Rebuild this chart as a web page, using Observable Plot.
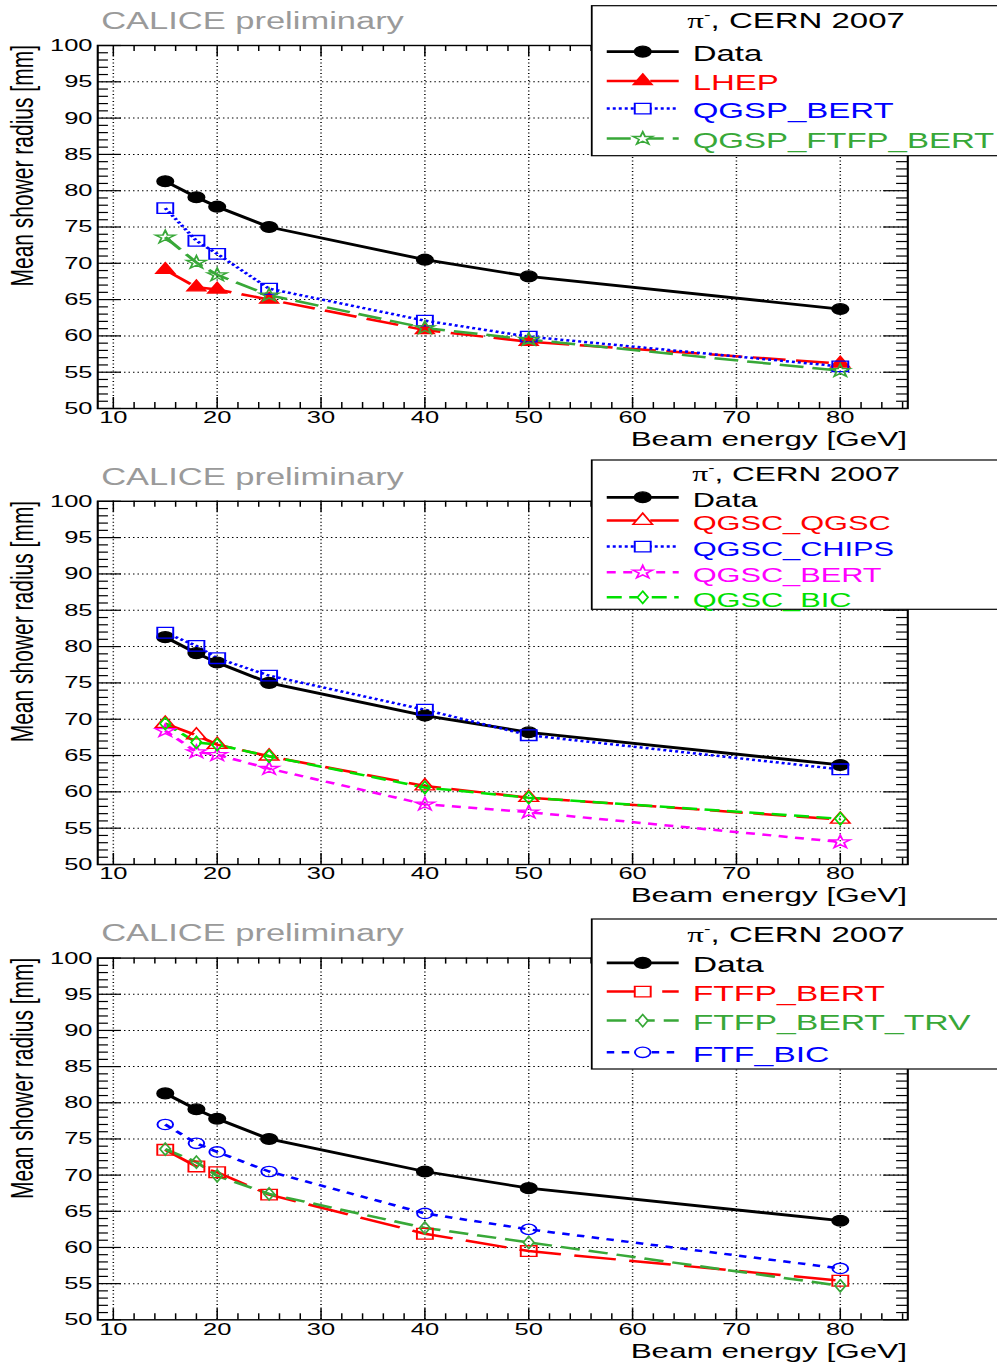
<!DOCTYPE html>
<html><head><meta charset="utf-8">
<script src="https://cdn.jsdelivr.net/npm/d3@7"></script>
<script src="https://cdn.jsdelivr.net/npm/@observablehq/plot@0.6"></script>
<style>
body{margin:0;background:#fff;}
#chart svg{display:block;}
</style></head><body><div id="chart"></div>
<script>
// ---------- data ----------
const energies = [15, 18, 20, 25, 40, 50, 80];
const dataRadius = [81.3, 79.1, 77.8, 75.0, 70.5, 68.2, 63.7];
// panel 1
const lhep = [69.1, 66.7, 66.4, 65.0, 60.8, 59.2, 56.2];
const qgspBert = [77.6, 73.1, 71.3, 66.5, 62.1, 59.9, 55.8];
const qgspFtfpBert = [73.6, 70.1, 68.4, 65.6, 61.1, 59.5, 55.2];
// panel 2
const qgscQgsc = [69.4, 67.8, 66.5, 64.9, 60.8, 59.2, 56.2];
const qgscChips = [81.9, 80.1, 78.4, 76.0, 71.3, 67.8, 63.1];
const qgscBert = [68.4, 65.5, 65.1, 63.2, 58.3, 57.2, 53.1];
const qgscBic = [69.4, 66.8, 66.5, 64.9, 60.6, 59.2, 56.3];
// panel 3
const ftfpBert = [73.5, 71.2, 70.4, 67.3, 61.9, 59.5, 55.4];
const ftfpBertTrv = [73.6, 71.8, 69.9, 67.4, 62.7, 60.7, 54.7];
const ftfBic = [77.0, 74.4, 73.2, 70.5, 64.7, 62.5, 57.1];

const xMajor = [10, 20, 30, 40, 50, 60, 70, 80];
const xMinor = [12, 14, 16, 18, 22, 24, 26, 28, 32, 34, 36, 38, 42, 44, 46, 48, 52, 54, 56, 58, 62, 64, 66, 68, 72, 74, 76, 78, 82, 84, 86];
const yMajor = [50, 55, 60, 65, 70, 75, 80, 85, 90, 95, 100];
const yMinor = d3.range(50, 101).filter(v => v % 5 !== 0);
const yGrid = [55, 60, 65, 70, 75, 80, 85, 90, 95];
const xDomain = [8.5, 86.5];
const yDomain = [50, 100];

const subtitle = "CALICE preliminary";
const xTitle = "Beam energy [GeV]";
const yTitle = "Mean shower radius [mm]";
const legendTitle = ", CERN 2007";

const FONT = "'Liberation Sans', Arial, Helvetica, sans-serif";
const GREEN = "#38a838";
const LIME = "#00e000";

const panels = [
  {
    height: 456, mt: 45, mb: 48,
    legend: {top: 5.7, bottom: 155.7, title: 28.3, rows: [61, 90.5, 118, 148], font: 22, titleFont: 22},
    series: [
      {name: "Data", values: dataRadius, color: "#000", dash: null, sym: "circle", r: 5.4, filled: true, sw: 2.8},
      {name: "LHEP", values: lhep, color: "#ff0000", dash: "22,7", sym: "triangle", r: 4.6, filled: true, sw: 2.5},
      {name: "QGSP_BERT", values: qgspBert, color: "#0000ff", dash: "2,2", sym: "square", r: 6, filled: false, sw: 2.5},
      {name: "QGSP_FTFP_BERT", values: qgspFtfpBert, color: GREEN, dash: "16,6", sym: "star", r: 4.1, filled: false, sw: 2.5}
    ]
  },
  {
    height: 456, mt: 44.8, mb: 48,
    legend: {top: 4, bottom: 153.3, title: 25, rows: [50.7, 74, 100, 125.7, 150.7], font: 20.5, titleFont: 21},
    series: [
      {name: "Data", values: dataRadius, color: "#000", dash: null, sym: "circle", r: 5.4, filled: true, sw: 2.8},
      {name: "QGSC_QGSC", values: qgscQgsc, color: "#ff0000", dash: "22,7", sym: "triangle", r: 4.8, filled: false, sw: 2.5},
      {name: "QGSC_CHIPS", values: qgscChips, color: "#0000ff", dash: "2,2", sym: "square", r: 6, filled: false, sw: 2.5},
      {name: "QGSC_BERT", values: qgscBert, color: "#ff00ff", dash: "6,5", sym: "star", r: 4.1, filled: false, sw: 2.5},
      {name: "QGSC_BIC", values: qgscBic, color: LIME, dash: "10,5", sym: "diamond", r: 3.7, filled: false, sw: 2.5}
    ]
  },
  {
    height: 455, mt: 45.6, mb: 47.7,
    legend: {top: 7, bottom: 157, title: 29.7, rows: [60.3, 89, 118, 149.7], font: 22.5, titleFont: 22},
    series: [
      {name: "Data", values: dataRadius, color: "#000", dash: null, sym: "circle", r: 5.4, filled: true, sw: 2.8},
      {name: "FTFP_BERT", values: ftfpBert, color: "#ff0000", dash: "28,9", sym: "square", r: 6, filled: false, sw: 2.5},
      {name: "FTFP_BERT_TRV", values: ftfpBertTrv, color: GREEN, dash: "13,6", sym: "diamond", r: 3.7, filled: false, sw: 2.5},
      {name: "FTF_BIC", values: ftfBic, color: "#0000ff", dash: "5,5", sym: "circle", r: 5.2, filled: false, sw: 2.5}
    ]
  }
];

const d3sym = {circle: d3.symbolCircle, triangle: d3.symbolTriangle, square: d3.symbolSquare, star: d3.symbolStar, diamond: d3.symbolDiamond};

const W = 665, OUTW = 997;
const ML = 64.7, MR = 60;

function makePanel(p) {
  const H = p.height;
  const frameW = W - ML - MR, frameH = H - p.mt - p.mb;
  const marks = [
    Plot.ruleX(xMajor, {x: d => d, stroke: "#000", strokeWidth: 1, strokeDasharray: "1,2.5"}),
    Plot.ruleY(yGrid, {y: d => d, stroke: "#000", strokeWidth: 1, strokeDasharray: "1,2"}),
    Plot.ruleX(xMajor, {x: d => d, insetTop: frameH - 11, strokeWidth: 1}),
    Plot.ruleX(xMajor, {x: d => d, insetBottom: frameH - 11, strokeWidth: 1}),
    Plot.ruleX(xMinor, {x: d => d, insetTop: frameH - 6, strokeWidth: 1}),
    Plot.ruleX(xMinor, {x: d => d, insetBottom: frameH - 6, strokeWidth: 1}),
    Plot.ruleY(yMajor, {y: d => d, insetRight: frameW - 16, strokeWidth: 1.2}),
    Plot.ruleY(yMajor, {y: d => d, insetLeft: frameW - 16, strokeWidth: 1.2}),
    Plot.ruleY(yMinor, {y: d => d, insetRight: frameW - 7.3, strokeWidth: 1.2}),
    Plot.ruleY(yMinor, {y: d => d, insetLeft: frameW - 7.3, strokeWidth: 1.2}),
    Plot.frame({stroke: "#000", strokeWidth: 1.4}),
    Plot.text(xMajor, {x: d => d, text: d => String(d), frameAnchor: "bottom", lineAnchor: "middle", dy: 9.5, fontSize: 17}),
    Plot.text(yMajor, {y: d => d, text: d => String(d), frameAnchor: "left", lineAnchor: "middle", textAnchor: "end", dx: -3.5, fontSize: 17})
  ];
  for (const s of p.series) {
    const rows = energies.map((e, i) => ({e, v: s.values[i]}));
    marks.push(Plot.line(rows, {x: "e", y: "v", stroke: s.color, strokeWidth: s.sw, strokeLinecap: "butt", strokeLinejoin: "miter", strokeDasharray: s.dash || undefined}));
  }
  for (const s of p.series) {
    const rows = energies.map((e, i) => ({e, v: s.values[i]}));
    marks.push(Plot.dot(rows, {x: "e", y: "v", symbol: s.sym, r: s.r, stroke: s.color, strokeWidth: 1.3, fill: s.filled ? s.color : "none"}));
  }
  const svg = Plot.plot({
    width: W, height: H,
    marginLeft: ML, marginRight: MR, marginTop: p.mt, marginBottom: p.mb,
    x: {domain: xDomain, axis: null},
    y: {domain: yDomain, axis: null},
    style: {fontFamily: FONT, background: "white", color: "black", overflow: "hidden"},
    marks
  });
  svg.setAttribute("width", OUTW);
  svg.setAttribute("height", H);
  svg.setAttribute("viewBox", `0 0 ${W} ${H}`);
  svg.setAttribute("preserveAspectRatio", "none");
  svg.style.maxWidth = "none";
  svg.style.width = OUTW + "px";
  svg.style.height = H + "px";

  const g = d3.select(svg).append("g").attr("font-family", FONT).attr("text-anchor", "start");
  g.append("text").attr("x", 67.5).attr("y", 29.5).attr("text-anchor", "start").attr("fill", "#9a9a9a").attr("font-size", 23).text(subtitle);
  g.append("text").attr("transform", `translate(22,${p.mt}) rotate(-90)`).attr("text-anchor", "end")
    .attr("font-size", 21).attr("fill", "#000").text(yTitle);
  g.append("text").attr("x", W - MR).attr("y", 446).attr("text-anchor", "end")
    .attr("font-size", 21).attr("fill", "#000").text(xTitle);

  // legend
  const L = p.legend;
  const lg = g.append("g");
  lg.append("rect").attr("x", 394.7).attr("y", L.top).attr("width", 300).attr("height", L.bottom - L.top)
    .attr("fill", "white").attr("stroke", "#000").attr("stroke-width", 1.2);
  const t = lg.append("text").attr("x", 531).attr("y", L.title).attr("text-anchor", "middle").attr("font-size", L.titleFont).attr("fill", "#000");
  t.append("tspan").attr("font-family", "'Liberation Serif', 'DejaVu Serif', serif").text("π");
  t.append("tspan").attr("font-size", L.titleFont * 0.6).attr("dy", -9).text("-");
  t.append("tspan").attr("dy", 9).text(legendTitle);
  p.series.forEach((s, i) => {
    const base = L.rows[i];
    const cy = base - 9.4;
    lg.append("line").attr("x1", 404.7).attr("x2", 452.7).attr("y1", cy).attr("y2", cy)
      .attr("stroke", s.color).attr("stroke-width", s.sw).attr("stroke-dasharray", s.dash || null);
    lg.append("path").attr("transform", `translate(428.7,${cy})`)
      .attr("d", d3.symbol(d3sym[s.sym], s.r * s.r * Math.PI)())
      .attr("fill", s.filled ? s.color : "white").attr("stroke", s.color).attr("stroke-width", 1.3);
    lg.append("text").attr("x", 462).attr("y", base).attr("text-anchor", "start").attr("font-size", L.font).attr("fill", s.color).text(s.name);
  });
  return svg;
}

const root = document.getElementById("chart");
for (const p of panels) root.appendChild(makePanel(p));
</script>
</body></html>
